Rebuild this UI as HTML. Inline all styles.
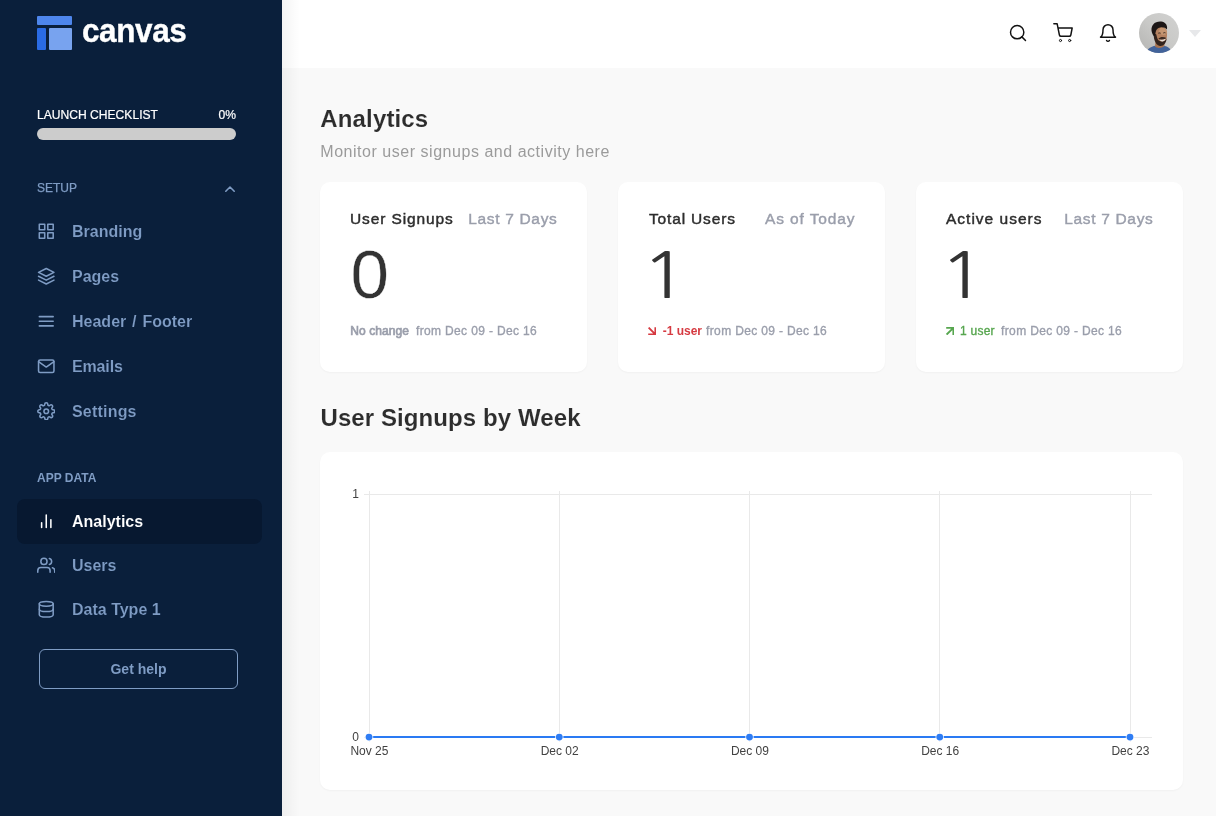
<!DOCTYPE html>
<html lang="en">
<head>
<meta charset="utf-8">
<title>Analytics</title>
<style>
*{box-sizing:border-box;margin:0;padding:0}
html,body{width:1216px;height:816px;overflow:hidden}
body{font-family:"Liberation Sans",Arial,sans-serif;background:#f9f9f9;position:relative;color:#2d2d2d}
.abs{position:absolute;white-space:nowrap}
#side{position:absolute;left:0;top:0;width:282px;height:816px;background:#0a1f3b}
#shadow{position:absolute;left:282px;top:0;width:18px;height:816px;background:linear-gradient(90deg,rgba(0,0,0,.045),rgba(0,0,0,0))}
#top{position:absolute;left:282px;top:0;width:934px;height:68px;background:#fff}
.nav{position:absolute;left:72px;font-size:16px;font-weight:bold;color:#7f9cc4;white-space:nowrap;line-height:20px;-webkit-text-stroke:.12px #0a1f3b}
.ico{position:absolute;left:36.75px;width:18.5px;height:18.5px;fill:none;stroke:#7f9cc4;stroke-width:2;stroke-linecap:round;stroke-linejoin:round}
.lab{position:absolute;left:37px;font-size:12px;color:#7f9cc4;white-space:nowrap;line-height:14px}
.card{position:absolute;top:182px;width:267px;height:190px;background:#fff;border-radius:10px;box-shadow:0 1px 2px rgba(0,0,0,.035)}
.ct{position:absolute;left:30px;top:26.600px;font-size:15.5px;line-height:20px;color:#2d2d2d;white-space:nowrap;-webkit-text-stroke:.45px #2d2d2d}
.cs{position:absolute;right:30px;top:26.600px;font-size:15.5px;line-height:20px;color:#9a9eab;white-space:nowrap;-webkit-text-stroke:.4px #9a9eab}
.big{position:absolute;left:30px;top:57px;font-size:69.200px;line-height:70px;color:#333;white-space:nowrap;-webkit-text-stroke:.4px #fff}
.one{font-family:"NanumGothic","Liberation Sans",sans-serif;font-size:62.400px;-webkit-text-stroke:0;transform:scaleX(1.25);transform-origin:0 0}
.ft{position:absolute;top:141.500px;font-size:12px;line-height:14px;color:#9a9eab;white-space:nowrap;letter-spacing:.35px;-webkit-text-stroke:.35px #9a9eab}
.ar{position:absolute;top:144.900px;width:8.200px;height:8.200px;fill:none;stroke-width:1.900;stroke-linecap:butt;stroke-linejoin:miter}
.hi{position:absolute;top:23px;width:20px;height:20px;fill:none;stroke:#111;stroke-width:1.750;stroke-linecap:round;stroke-linejoin:round}
</style>
</head>
<body>
<div id="side">
  <svg class="abs" style="left:37px;top:16px" width="36" height="35" viewBox="0 0 36 35">
    <rect x="0" y="0" width="35" height="9" rx="1" fill="#4e86ec"/>
    <rect x="0" y="12" width="9" height="22" rx="1" fill="#2a6be4"/>
    <rect x="12" y="12" width="23" height="22" rx="1" fill="#78a3ef"/>
  </svg>
  <div class="abs" style="left:81.500px;top:9.500px;font-size:34px;line-height:40px;font-weight:bold;color:#fff;letter-spacing:-.4px;transform:scaleX(.925);transform-origin:0 0;-webkit-text-stroke:.4px #fff">canvas</div>
  <div class="lab" style="top:108px;color:#fff;font-size:12.100px;-webkit-text-stroke:.2px #fff">LAUNCH CHECKLIST</div>
  <div class="lab" style="top:108px;left:auto;right:46px;color:#fff;font-size:12.100px;-webkit-text-stroke:.2px #fff">0%</div>
  <div class="abs" style="left:37px;top:128px;width:199px;height:12px;border-radius:6px;background:#ccc"></div>
  <div class="lab" style="top:181px;-webkit-text-stroke:.25px #7f9cc4">SETUP</div>
  <svg class="abs" style="left:223px;top:182px;fill:none;stroke:#7f9cc4;stroke-width:1.6;stroke-linecap:round;stroke-linejoin:round" width="14" height="14" viewBox="0 0 14 14"><path d="M2.800 9.200l4.200-4.200 4.200 4.200"/></svg>

  <div class="abs" style="left:17px;top:499px;width:245px;height:45px;border-radius:8px;background:#071830"></div>
  <svg class="ico" style="top:221.75px;" viewBox="0 0 24 24"><rect x="3" y="3" width="7" height="7"/><rect x="14" y="3" width="7" height="7"/><rect x="14" y="14" width="7" height="7"/><rect x="3" y="14" width="7" height="7"/></svg>
  <svg class="ico" style="top:266.75px;" viewBox="0 0 24 24"><polygon points="12 2 2 7 12 12 22 7 12 2"/><polyline points="2 17 12 22 22 17"/><polyline points="2 12 12 17 22 12"/></svg>
  <svg class="ico" style="top:311.75px;" viewBox="0 0 24 24"><line x1="3" y1="12" x2="21" y2="12"/><line x1="3" y1="6" x2="21" y2="6"/><line x1="3" y1="18" x2="21" y2="18"/></svg>
  <svg class="ico" style="top:356.75px;" viewBox="0 0 24 24"><path d="M4 4h16c1.1 0 2 .9 2 2v12c0 1.1-.9 2-2 2H4c-1.1 0-2-.9-2-2V6c0-1.1.9-2 2-2z"/><polyline points="22,6 12,13 2,6"/></svg>
  <svg class="ico" style="top:401.75px;" viewBox="0 0 24 24"><circle cx="12" cy="12" r="3"/><path d="M19.4 15a1.65 1.65 0 0 0 .33 1.82l.06.06a2 2 0 0 1 0 2.83 2 2 0 0 1-2.83 0l-.06-.06a1.65 1.65 0 0 0-1.82-.33 1.65 1.65 0 0 0-1 1.51V21a2 2 0 0 1-2 2 2 2 0 0 1-2-2v-.09A1.65 1.65 0 0 0 9 19.4a1.65 1.65 0 0 0-1.82.33l-.06.06a2 2 0 0 1-2.83 0 2 2 0 0 1 0-2.83l.06-.06a1.65 1.65 0 0 0 .33-1.82 1.65 1.65 0 0 0-1.51-1H3a2 2 0 0 1-2-2 2 2 0 0 1 2-2h.09A1.65 1.65 0 0 0 4.6 9a1.65 1.65 0 0 0-.33-1.82l-.06-.06a2 2 0 0 1 0-2.83 2 2 0 0 1 2.83 0l.06.06a1.65 1.65 0 0 0 1.82.33H9a1.65 1.65 0 0 0 1-1.51V3a2 2 0 0 1 2-2 2 2 0 0 1 2 2v.09a1.65 1.65 0 0 0 1 1.51 1.65 1.65 0 0 0 1.82-.33l.06-.06a2 2 0 0 1 2.83 0 2 2 0 0 1 0 2.83l-.06.06a1.65 1.65 0 0 0-.33 1.82V9a1.65 1.65 0 0 0 1.51 1H21a2 2 0 0 1 2 2 2 2 0 0 1-2 2h-.09a1.65 1.65 0 0 0-1.51 1z"/></svg>
  <svg class="ico" style="top:511.75px;stroke:#fff" viewBox="0 0 24 24"><line x1="18" y1="20" x2="18" y2="10"/><line x1="12" y1="20" x2="12" y2="4"/><line x1="6" y1="20" x2="6" y2="14"/></svg>
  <svg class="ico" style="top:555.75px;" viewBox="0 0 24 24"><path d="M17 21v-2a4 4 0 0 0-4-4H5a4 4 0 0 0-4 4v2"/><circle cx="9" cy="7" r="4"/><path d="M23 21v-2a4 4 0 0 0-3-3.87"/><path d="M16 3.130a4 4 0 0 1 0 7.750"/></svg>
  <svg class="ico" style="top:599.75px;" viewBox="0 0 24 24"><ellipse cx="12" cy="5" rx="9" ry="3"/><path d="M21 12c0 1.660-4 3-9 3s-9-1.340-9-3"/><path d="M3 5v14c0 1.660 4 3 9 3s9-1.340 9-3V5"/></svg>
  <div class="nav" style="top:222px">Branding</div>
  <div class="nav" style="top:267px">Pages</div>
  <div class="nav" style="top:312px;word-spacing:1.4px">Header / Footer</div>
  <div class="nav" style="top:357px;letter-spacing:-.15px">Emails</div>
  <div class="nav" style="top:402px;letter-spacing:.2px">Settings</div>

  <div class="lab" style="top:471px;font-weight:bold">APP DATA</div>
  <div class="nav" style="top:512px;color:#fff;-webkit-text-stroke:.1px #071830">Analytics</div>
  <div class="nav" style="top:556px">Users</div>
  <div class="nav" style="top:600px">Data Type 1</div>
  <div class="abs" style="left:39px;top:649px;width:199px;height:40px;border:1px solid #7f9cc4;border-radius:6px;text-align:center;line-height:38px;font-size:14px;font-weight:bold;color:#7f9cc4">Get help</div>
</div>
<div id="top">
  <svg class="hi" style="left:726px" viewBox="0 0 24 24"><circle cx="11" cy="11" r="8"/><line x1="21" y1="21" x2="16.650" y2="16.650"/></svg>
  <svg class="hi" style="left:771px" viewBox="0 0 24 24"><circle cx="9" cy="21" r="1.300" stroke-width="1.200"/><circle cx="20" cy="21" r="1.300" stroke-width="1.200"/><path d="M1 1h4l2.680 13.390a2 2 0 0 0 2 1.610h9.720a2 2 0 0 0 2-1.610L23 6H6"/></svg>
  <svg class="hi" style="left:816px" viewBox="0 0 24 24"><path d="M18 8A6 6 0 0 0 6 8c0 7-3 9-3 9h18s-3-2-3-9"/><path d="M13.730 21a2 2 0 0 1-3.460 0"/></svg>
  <svg class="abs" style="left:857px;top:13px" width="40" height="40" viewBox="0 0 40 40">
    <defs><clipPath id="av"><circle cx="20" cy="20" r="20"/></clipPath>
      <filter id="bl" x="-10%" y="-10%" width="120%" height="120%"><feGaussianBlur stdDeviation=".55"/></filter>
      <linearGradient id="abg" x1="0" y1="1" x2="1" y2="0"><stop offset="0" stop-color="#b4b4b2"/><stop offset=".5" stop-color="#c9c9c7"/><stop offset="1" stop-color="#d2d2d1"/></linearGradient></defs>
    <g clip-path="url(#av)">
      <rect width="40" height="40" fill="url(#abg)"/>
      <g filter="url(#bl)">
        <path d="M7 41c.5-4 3-6.500 8.500-8.300l4 1.500 6-1.200c4 .8 6.500 2.500 7.500 8z" fill="#43639a"/>
        <path d="M16.500 29l-.5 4.500c2 2 6.500 2 9.500-.5l-.3-4z" fill="#a6724f"/>
        <path d="M15 19.500c-.5-3 2-5.500 6.500-5.800 4-.2 6.600 2 6.600 6.500 0 5-1 9-3.500 11.200-2 1.500-4.500 1.300-6.500-.4-2-2-3-6.500-3.100-11.500z" fill="#b48160"/>
        <path d="M21 15c3-.6 6 .5 6.800 3.500.2 2-1 3.500-3 3.500-2.500 0-4.500-1.500-5-3.500z" fill="#c59672"/>
        <path d="M14.600 22c.4 5.500 2.400 10.300 6.400 10.900 3.500.4 6-2.600 6.800-7.400-1 1.700-2.300 2.600-4.300 2.900-2.400.3-4.200-.6-5-2.600-.6-1.600-.8-3.200-1.300-4.600-1-.3-2 .2-2.600.8z" fill="#30231d"/>
        <path d="M14.800 23c-2.600-3.500-3.300-8.500-.6-11.600 2.800-3.200 8.600-3.600 11.700-1.400 2 1.500 2.600 4 2 6.600-1.600-2-4-2.700-6.700-2.200-2.500.5-4 2-4.500 4.500-.3 1.500-.3 3-.9 4.100z" fill="#1f1917"/>
        <path d="M19.300 25.800c1.200-1.300 2.600-1.900 4.200-1.900 1.500 0 2.800.4 3.900 1.200-.6.900-2 1.500-3.900 1.700-1.700.1-3.100-.2-4.200-1z" fill="#3a2a22"/>
        <path d="M20.600 26.600c2 .5 4.300.2 5.900-.8-.4 1.800-1.600 2.800-3.100 2.800-1.400 0-2.400-.7-2.800-2z" fill="#e9dfd7"/>
        <path d="M19.300 20.300c.7-.5 1.700-.5 2.400 0M24.300 20c.7-.5 1.600-.5 2.200-.1" stroke="#2b1f1a" stroke-width=".9" fill="none"/>
      </g>
    </g>
  </svg>
  <svg class="abs" style="left:907px;top:30px" width="12" height="7" viewBox="0 0 12 7"><path d="M0 0h12L6 7z" fill="#e7e8ea"/></svg>
</div>

<div id="shadow"></div>
<div class="abs" style="left:320.300px;top:103px;font-size:24px;line-height:32px;font-weight:bold;color:#2d2d2d;letter-spacing:.15px;-webkit-text-stroke:.1px #f9f9f9">Analytics</div>
<div class="abs" style="left:320.300px;top:142.300px;font-size:16px;line-height:20px;color:#9b9b9b;letter-spacing:.53px">Monitor user signups and activity here</div>

<div class="card" style="left:320px"><div class="ct" style="letter-spacing:.88px">User Signups</div><div class="cs" style="letter-spacing:.67px;right:29.500px">Last 7 Days</div><div class="big" style="left:30.500px">0</div><div class="ft" style="left:30.300px;letter-spacing:.08px;-webkit-text-stroke:.7px #9a9eab">No change</div><div class="ft" style="left:96px">from Dec 09 - Dec 16</div></div>
<div class="card" style="left:618px"><div class="ct" style="letter-spacing:.84px;left:31px">Total Users</div><div class="cs" style="letter-spacing:.9px;right:29.500px">As of Today</div><div class="big one" style="left:22.800px;top:58.700px">1</div><svg class="ar" style="left:30px;stroke:#d63a41" viewBox="0 0 8.200 8.200"><path d="M.6.6 7.400 7.400M7.400.2V7.400H.2"/></svg><div class="ft" style="left:44.700px;font-weight:bold;color:#d63a41;letter-spacing:0;-webkit-text-stroke:0">-1 user</div><div class="ft" style="left:88.100px">from Dec 09 - Dec 16</div></div>
<div class="card" style="left:916px"><div class="ct" style="letter-spacing:1px">Active users</div><div class="cs" style="letter-spacing:.67px;right:29.500px">Last 7 Days</div><div class="big one" style="left:22.800px;top:58.700px">1</div><svg class="ar" style="left:30px;stroke:#57a64f" viewBox="0 0 8.200 8.200"><path d="M.6 7.600 7.400.8M.2.8H7.400V8"/></svg><div class="ft" style="left:44px;color:#57a64f;letter-spacing:.25px;-webkit-text-stroke:.35px #57a64f">1 user</div><div class="ft" style="left:85.100px">from Dec 09 - Dec 16</div></div>

<div class="abs" style="left:320.500px;top:402.300px;font-size:24px;line-height:32px;font-weight:bold;color:#2d2d2d;letter-spacing:.09px;-webkit-text-stroke:.1px #f9f9f9">User Signups by Week</div>
<div class="abs" style="left:320px;top:452px;width:863px;height:338px;background:#fff;border-radius:10px;box-shadow:0 1px 2px rgba(0,0,0,.035)"></div>
<svg class="abs" style="left:320px;top:452px" width="863" height="338" viewBox="320 452 863 338">
  <g stroke="#e9e9e9" stroke-width="1" shape-rendering="crispEdges">
    <line x1="364" y1="494.500" x2="1152" y2="494.500"/><line x1="364" y1="737.500" x2="1152" y2="737.500"/>
    <line x1="369.5" y1="491" x2="369.5" y2="742"/>
    <line x1="559.5" y1="491" x2="559.5" y2="742"/>
    <line x1="749.5" y1="491" x2="749.5" y2="742"/>
    <line x1="939.5" y1="491" x2="939.5" y2="742"/>
    <line x1="1130.5" y1="491" x2="1130.5" y2="742"/>
  </g>
  <polyline points="369.0,737.100 559.25,737.100 749.5,737.100 939.75,737.100 1130.0,737.100" fill="none" stroke="#2a7af3" stroke-width="2"/>
  <circle cx="369.0" cy="737.100" r="4.300" fill="#fff" fill-opacity=".8"/><circle cx="369.0" cy="737.100" r="3.400" fill="#2f7df4"/>
  <circle cx="559.25" cy="737.100" r="4.300" fill="#fff" fill-opacity=".8"/><circle cx="559.25" cy="737.100" r="3.400" fill="#2f7df4"/>
  <circle cx="749.5" cy="737.100" r="4.300" fill="#fff" fill-opacity=".8"/><circle cx="749.5" cy="737.100" r="3.400" fill="#2f7df4"/>
  <circle cx="939.75" cy="737.100" r="4.300" fill="#fff" fill-opacity=".8"/><circle cx="939.75" cy="737.100" r="3.400" fill="#2f7df4"/>
  <circle cx="1130.0" cy="737.100" r="4.300" fill="#fff" fill-opacity=".8"/><circle cx="1130.0" cy="737.100" r="3.400" fill="#2f7df4"/>
  <g font-family="Liberation Sans,Arial,sans-serif" font-size="12" fill="#424242">
    <text x="359" y="498" text-anchor="end">1</text><text x="359" y="741" text-anchor="end">0</text>
    <text x="369.4" y="755" text-anchor="middle">Nov 25</text>
    <text x="559.65" y="755" text-anchor="middle">Dec 02</text>
    <text x="749.9" y="755" text-anchor="middle">Dec 09</text>
    <text x="940.15" y="755" text-anchor="middle">Dec 16</text>
    <text x="1130.4" y="755" text-anchor="middle">Dec 23</text>
  </g>
</svg>
</body>
</html>
